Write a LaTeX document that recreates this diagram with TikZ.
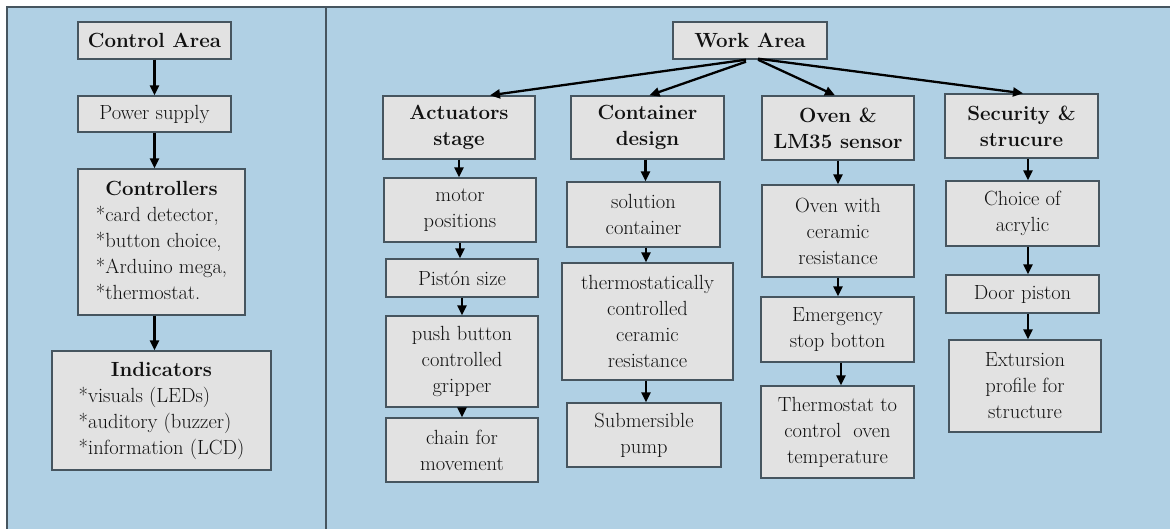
\documentclass[tikz,border=0pt]{standalone}
\usepackage{fontspec}
\usetikzlibrary{arrows.meta,calc}
\definecolor{bgblue}{HTML}{B0D0E4}
\definecolor{boxfill}{HTML}{E2E2E2}
\definecolor{boxline}{HTML}{46555F}
\definecolor{txt}{HTML}{111111}
\begin{document}
\begin{tikzpicture}[x=1pt,y=-1pt,
  box/.style={draw=boxline, line width=1.4pt, fill=boxfill, inner sep=0pt, align=center,
    text=txt, font=\fontsize{20.5}{26}\selectfont},
  wh/.style 2 args={minimum width=#1pt, minimum height=#2pt},
  arr/.style={line width=2.3pt, draw=black, -{Triangle[length=10pt,width=9pt]}}]
\useasboundingbox (0,0) rectangle (1170,528);
\fill[white] (0,0) rectangle (1170,528);
\draw[fill=bgblue, draw=boxline, line width=1.4pt] (7,7) rectangle (1172,530);
\draw[draw=boxline, line width=1.4pt] (326,7) -- (326,530);

% Control area
\node[box, wh={153}{37}] (ctrl) at (154.5,40.5) {\textbf{Control Area}};
\node[box, wh={153}{36}] (power) at (154.5,114) {Power supply};
\node[box, wh={167}{146}] (contr) at (161.5,242) {\begin{tabular}{@{}l@{}}\multicolumn{1}{@{}c@{}}{\textbf{Controllers}}\\{*}card detector,\\{*}button choice,\\{*}Arduino mega,\\{*}thermostat.\end{tabular}};
\node[box, wh={219}{119}] (ind) at (161.5,410.5) {\begin{tabular}{@{}l@{}}\multicolumn{1}{@{}c@{}}{\textbf{Indicators}}\\{*}visuals (LEDs)\\{*}auditory (buzzer)\\{*}information (LCD)\end{tabular}};
\draw[arr] (ctrl.south) -- (power.north);
\draw[arr] (power.south) -- (power.south |- contr.north);
\draw[arr] ($(contr.south)+(-7,0)$) -- ($(contr.south |- ind.north)+(-7,0)$);

% Work area
\node[box, wh={154}{37}] (work) at (750,40.5) {\textbf{Work Area}};
\node[box, wh={152}{63}] (act) at (459,127.5) {\textbf{Actuators}\\\textbf{stage}};
\node[box, wh={153}{63}] (cont) at (647.5,127.5) {\textbf{Container}\\\textbf{design}};
\node[box, wh={152}{64}] (oven) at (838,128) {\textbf{Oven \&}\\\textbf{LM35 sensor}};
\node[box, wh={153}{64}] (sec) at (1021.5,126) {\textbf{Security \&}\\\textbf{strucure}};
\draw[arr] ($(work.south)+(-4,0)$) -- ($(act.north)+(31,0)$);
\draw[arr] ($(work.south)+(-4,2)$) -- ($(cont.north)+(2,0)$);
\draw[arr] ($(work.south)+(8,0)$) -- ($(oven.north)+(-3,0)$);
\draw[arr] ($(work.south)+(8,-1)$) -- ($(sec.north)+(1.5,0)$);

% Actuators column
\node[box, wh={152}{64}] (motor) at (460,210) {motor\\positions};
\node[box, wh={152}{38}] (piston) at (462,278) {Pistón size};
\node[box, wh={152}{91}] (push) at (462,361.5) {push button\\controlled\\gripper};
\node[box, wh={152}{64}] (chain) at (462,450) {chain for\\movement};
\draw[arr] (act.south) -- (act.south |- motor.north);
\draw[arr] (motor.south) -- (motor.south |- piston.north);
\draw[arr] (piston.south) -- (push.north);
\draw[arr] (push.south) -- (chain.north);

% Container column
\node[box, wh={153}{65}] (sol) at (643.5,214.5) {solution\\container};
\node[box, wh={171}{117}] (therm) at (647.5,321.5) {thermostatically\\controlled\\ceramic\\resistance};
\node[box, wh={154}{64}] (pump) at (644,435) {Submersible\\pump};
\draw[arr] ($(cont.south)+(-2,0)$) -- ($(cont.south |- sol.north)+(-2,0)$);
\draw[arr] ($(sol.south)+(2.5,0)$) -- ($(sol.south |- therm.north)+(2.5,0)$);
\draw[arr] ($(therm.south)+(-1.5,0)$) -- ($(therm.south |- pump.north)+(-1.5,0)$);

% Oven column
\node[box, wh={152}{92}] (ovenw) at (838,231) {Oven with\\ceramic\\resistance};
\node[box, wh={153}{65}] (emerg) at (837.5,329.5) {Emergency\\stop botton};
\node[box, wh={153}{92}] (tstat) at (837.5,432) {Thermostat to\\control\ \ oven\\temperature};
\draw[arr] (oven.south) -- (oven.south |- ovenw.north);
\draw[arr] (ovenw.south) -- (ovenw.south |- emerg.north);
\draw[arr] ($(emerg.south)+(3.5,0)$) -- ($(emerg.south |- tstat.north)+(3.5,0)$);

% Security column
\node[box, wh={153}{65}] (choice) at (1022.5,213.5) {Choice of\\acrylic};
\node[box, wh={153}{38}] (door) at (1022.5,294) {Door piston};
\node[box, wh={152}{92}] (extr) at (1025,386) {Extursion\\profile for\\structure};
\draw[arr] ($(sec.south)+(6.5,0)$) -- ($(sec.south |- choice.north)+(6.5,0)$);
\draw[arr] ($(choice.south)+(5.5,0)$) -- ($(choice.south |- door.north)+(5.5,0)$);
\draw[arr] ($(door.south)+(5.5,0)$) -- ($(door.south |- extr.north)+(5.5,0)$);
\end{tikzpicture}
\end{document}
